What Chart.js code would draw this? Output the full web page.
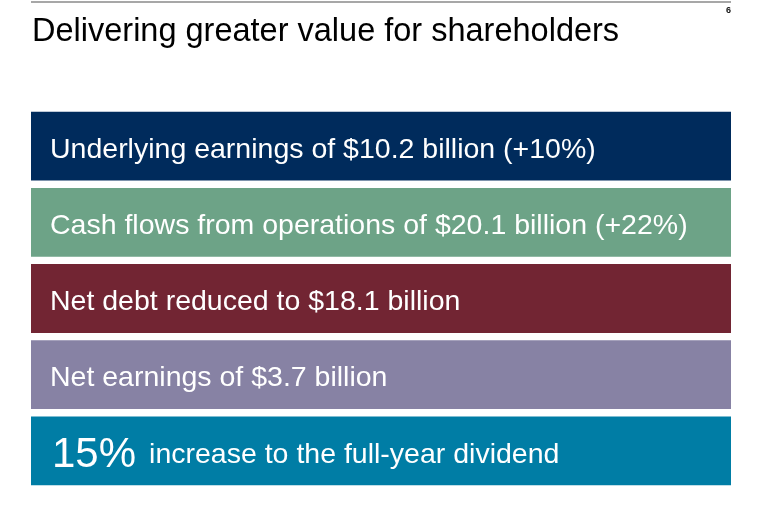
<!DOCTYPE html>
<html>
<head>
<meta charset="utf-8">
<title>Delivering greater value for shareholders</title>
<script src="https://cdn.jsdelivr.net/npm/chart.js@4/dist/chart.umd.min.js"></script>
<style>
  html, body { margin: 0; padding: 0; background: #fff; }
  #wrap { width: 760px; height: 509px; }
</style>
</head>
<body>
<div id="wrap"><canvas id="slideChart" width="760" height="509"></canvas></div>
<script>
// Dados do slide
const slideTitle = 'Delivering greater value for shareholders';
const pageNumber = '6';
const statements = [
    'Underlying earnings of $10.2 billion (+10%)',
    'Cash flows from operations of $20.1 billion (+22%)',
    'Net debt reduced to $18.1 billion',
    'Net earnings of $3.7 billion',
    'increase to the full-year dividend'
];
const bigPrefix = ['', '', '', '', '15%'];
const barLength = [1, 1, 1, 1, 1];
const barColors = ['#002b5c', '#6da387', '#722533', '#8782a4', '#007da5'];

const FONT = '"Liberation Sans", Arial, sans-serif';

// Texto dentro das barras + titulo do slide
const slideText = {
    id: 'slideText',
    afterDatasetsDraw(chart) {
        const ctx = chart.ctx;
        const meta = chart.getDatasetMeta(0);
        ctx.save();

        // linha cinza no topo
        ctx.strokeStyle = '#8a8a8a';
        ctx.lineWidth = 1.5;
        ctx.beginPath();
        ctx.moveTo(31, 2);
        ctx.lineTo(731, 2);
        ctx.stroke();

        // numero da pagina
        ctx.fillStyle = '#111';
        ctx.font = 'bold 9px ' + FONT;
        ctx.textAlign = 'right';
        ctx.textBaseline = 'alphabetic';
        ctx.fillText(pageNumber, 731, 13);

        // titulo
        ctx.textAlign = 'left';
        ctx.fillStyle = '#000';
        ctx.font = '32.5px ' + FONT;
        ctx.fillText(slideTitle, 32, 41);

        // textos das barras
        ctx.fillStyle = '#fff';
        meta.data.forEach((bar, i) => {
            let x = bar.base + 19;
            const baseline = bar.y + 0.716 * 28.5 / 2 + 1.5;
            if (bigPrefix[i]) {
                ctx.font = '42px ' + FONT;
                ctx.fillText(bigPrefix[i], x + 2, bar.y + 0.716 * 42 / 2 + 1.5);
                x += ctx.measureText(bigPrefix[i]).width + 15;
            }
            ctx.font = '28.5px ' + FONT;
            ctx.fillText(statements[i], x, baseline);
        });
        ctx.restore();
    }
};

document.addEventListener('DOMContentLoaded', function() {
    const ctx = document.getElementById('slideChart').getContext('2d');
    new Chart(ctx, {
        type: 'bar',
        data: {
            labels: statements,
            datasets: [{
                data: barLength,
                backgroundColor: barColors,
                borderWidth: 0,
                categoryPercentage: 1,
                barPercentage: 0.903
            }]
        },
        options: {
            indexAxis: 'y',
            responsive: false,
            animation: false,
            layout: { padding: { left: 31, right: 29, top: 108, bottom: 20 } },
            scales: {
                x: { display: false, min: 0, max: 1 },
                y: { display: false }
            },
            plugins: {
                legend: { display: false },
                tooltip: { enabled: false },
                title: { display: false }
            }
        },
        plugins: [slideText]
    });
});
</script>
</body>
</html>
